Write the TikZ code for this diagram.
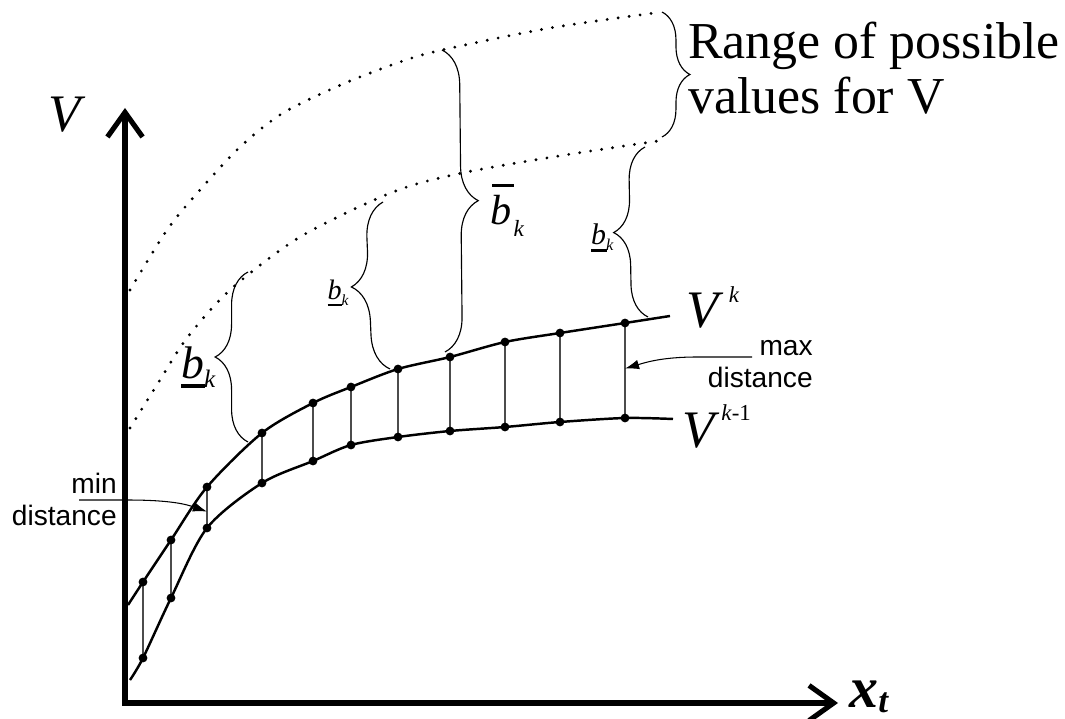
\documentclass[tikz,border=0pt]{standalone}
\usepackage{fontspec}
\setmainfont{Liberation Serif}
\setsansfont{Liberation Sans}
\usepackage{graphicx}
\usepackage{tikz}
\usetikzlibrary{arrows.meta, decorations.pathreplacing, calc}
\newcommand{\lowb}{\rlap{\rule[-0.22em]{0.52em}{0.09em}}\textit{b}\raisebox{-0.2em}{\scalebox{0.55}{\textit{k}}}}
\newcommand{\uppb}{\rlap{\hspace{0.05em}\rule[0.9em]{0.5em}{0.08em}}\textit{b}\hspace{0.05em}\raisebox{-0.28em}{\scalebox{0.55}{\textit{k}}}}
\tikzset{
  axisline/.style={line width=2.9pt,line join=miter,{Straight Barb[length=14pt,width=20pt]}-{Straight Barb[length=14pt,width=20pt]}},
  valcurve/.style={line width=1.4pt},
  bound/.style={line width=1.8pt,line cap=round,dash pattern=on 0pt off 6.3pt},
  rung/.style={line width=0.7pt,black!70},
  vdot/.style={circle,fill=black,inner sep=0pt,minimum size=5pt},
  brc/.style={decorate,decoration={brace,amplitude=#1},line width=0.65pt},
  ptr/.style={-{Latex[length=8pt,width=5.5pt]},line width=0.6pt},
  note/.style={font=\sffamily\fontsize{16}{18}\selectfont,align=right,inner sep=0pt},
  mlab/.style={inner sep=0pt}
}

\begin{document}
\begin{tikzpicture}[x=0.02cm, y=-0.02cm]
  \useasboundingbox (0,0) rectangle (1065,719);

  % axes
  \coordinate (o) at (125,703);
  \coordinate (ytip) at (125,108);
  \coordinate (xtip) at (838,703);
  \draw[axisline] (ytip) -- (o) -- (xtip);
  \node[mlab,anchor=base,font=\fontsize{30}{30}\selectfont] (vaxis) at (67,132) {\textit{V}};
  \node[mlab,anchor=base west,font=\fontsize{33}{33}\selectfont\bfseries\itshape] (xt) at (849,707)
    {x\raisebox{-0.1em}{\fontsize{20}{20}\selectfont t}};

  % range of possible values
  \draw[bound] plot[smooth] coordinates {(130,290) (167,230) (200,190) (240,147) (283,113) (343,84) (400,62) (442,50) (550,28) (662,12)};
  \draw[bound] plot[smooth] coordinates {(130,428) (160,380) (187,338) (230,290) (300,237) (393,192) (462,173) (565,155) (665,140)};

  % value functions
  \foreach \n/\x/\yu/\yl in {1/143/582/658, 2/171/540/598, 3/207/487/528, 4/262/433/483,
      5/313/403/461, 6/351/387/445, 7/398/369/437, 8/450/357/431, 9/505/342/427,
      10/560/333/422, 11/625/323/418}{
    \coordinate (u\n) at (\x,\yu);
    \coordinate (l\n) at (\x,\yl);
  }
  \coordinate (u0) at (128,605);
  \coordinate (u12) at (670,316);
  \coordinate (l0) at (130,680);
  \coordinate (l12) at (673,419);
  \foreach \n in {1,...,11}
    \draw[rung] (u\n) -- (l\n);
  \draw[valcurve] plot[smooth] coordinates {(u0) (u1) (u2) (u3) (u4) (u5) (u6) (u7) (u8) (u9) (u10) (u11) (u12)};
  \draw[valcurve] plot[smooth] coordinates {(l0) (l1) (l2) (l3) (l4) (l5) (l6) (l7) (l8) (l9) (l10) (l11) (l12)};
  \foreach \n in {1,...,11}{
    \node[vdot] (du\n) at (u\n) {};
    \node[vdot] (dl\n) at (l\n) {};
  }
  \node[mlab,anchor=base west,font=\fontsize{30}{30}\selectfont] (vk) at (686,328)
    {\textit{V}\hspace{3pt}\raisebox{14.5pt}{\fontsize{13}{13}\selectfont\textit{k}}};
  \node[mlab,anchor=base west,font=\fontsize{30}{30}\selectfont] (vkm) at (682,447)
    {\textit{V}\hspace{1pt}\raisebox{15pt}{\fontsize{13}{13}\selectfont\textit{k}-1}};

  % braces
  \coordinate (b1t) at (248,272);
  \coordinate (b1b) at (248,442);
  \coordinate (b2t) at (383,202);
  \coordinate (b2b) at (390,369);
  \coordinate (b3t) at (442,50);
  \coordinate (b3b) at (445,352);
  \coordinate (b4t) at (645,147);
  \coordinate (b4b) at (648,317);
  \coordinate (b5t) at (662,12);
  \coordinate (b5b) at (662,137);
  \draw[brc=18.7pt] (b1b) -- (b1t);
  \draw[brc=20pt] (b2b) -- (b2t);
  \draw[brc=19.8pt] (b3t) -- (b3b);
  \draw[brc=18.7pt] (b4b) -- (b4t);
  \draw[brc=15.9pt] (b5t) -- (b5b);
  \node[mlab,anchor=base east,font=\fontsize{26}{26}\selectfont] (lb1) at (216,378) {\lowb};
  \node[mlab,anchor=base east,font=\fontsize{16}{16}\selectfont] (lb2) at (349,300) {\lowb};
  \node[mlab,anchor=base east,font=\fontsize{17}{17}\selectfont] (lb4) at (614,245) {\lowb};
  \node[mlab,anchor=base west,font=\fontsize{24}{24}\selectfont] (ub3) at (490,225) {\uppb};
  \node[mlab,anchor=north west,align=left,font=\fontsize{29.5}{31}\selectfont] (range) at (688,22)
    {Range of possible\\values for V};

  % distances
  \node[note,anchor=north east] (mind) at (117,473) {min\\distance};
  \node[note,anchor=north east] (maxd) at (813,340) {max\\distance};
  \coordinate (minstart) at (79,500);
  \coordinate (mintip) at ($(u3)!0.6!(l3)$);
  \coordinate (maxstart) at (752,357);
  \coordinate (maxtip) at ($(u11)!0.48!(l11)$);
  \draw[ptr] (minstart) -- ++(48,0) .. controls +(45,0) and +(-20,-7) .. (mintip);
  \draw[ptr] (maxstart) -- ++(-55,0) .. controls +(-35,0) and +(20,-6) .. (maxtip);
\end{tikzpicture}
\end{document}
